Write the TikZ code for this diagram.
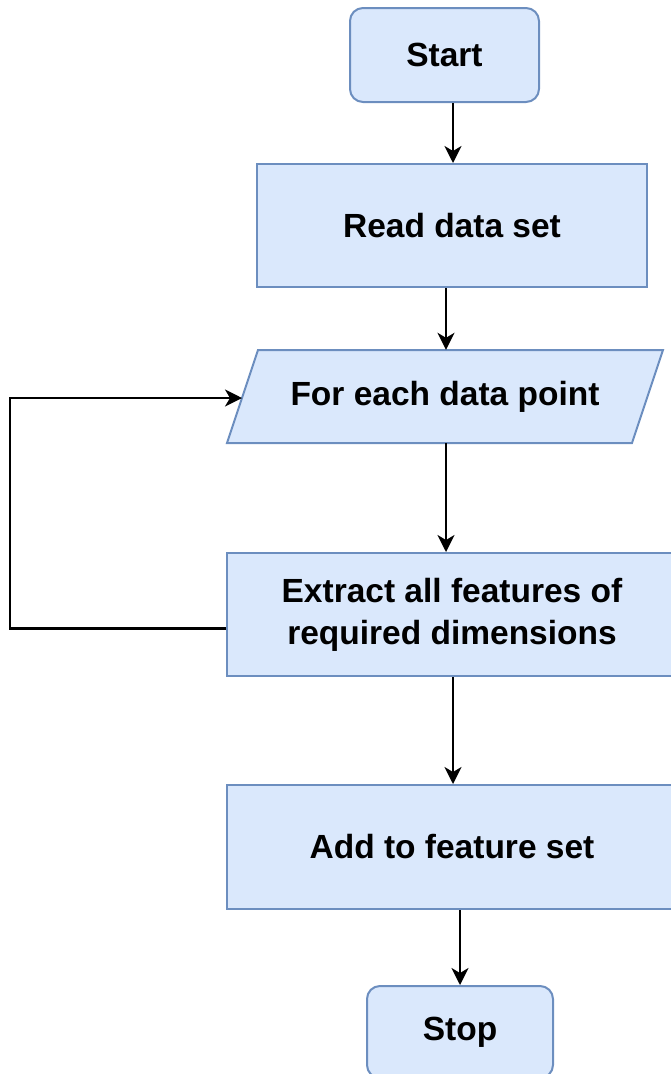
\documentclass[tikz,border=0pt]{standalone}
\usepackage{fontspec}
\setmainfont{Liberation Sans}
\usetikzlibrary{arrows.meta,calc}
\definecolor{boxfill}{HTML}{DAE8FC}
\definecolor{boxline}{HTML}{6C8EBF}
\tikzset{
  boxstyle/.style={draw=boxline, fill=boxfill, line width=2pt, inner sep=0pt,
    align=center, font=\fontsize{33.5pt}{42pt}\selectfont\bfseries},
  roundbox/.style={boxstyle, rounded corners=13pt},
  textonly/.style={inner sep=0pt, align=center, font=\fontsize{33.5pt}{42pt}\selectfont\bfseries},
  flow/.style={line width=2.3pt, -{Stealth[length=17pt, width=17pt, inset=5pt]}}
}
\begin{document}
\begin{tikzpicture}[x=1pt, y=-1pt]
\useasboundingbox (0,0) rectangle (670,1074);
\node[roundbox, minimum width=189pt, minimum height=94pt] (start) at (444.5,55) {Start};
\node[boxstyle, minimum width=390pt, minimum height=123pt] (read) at (452,225.5) {Read data set};
% parallelogram
\draw[draw=boxline, fill=boxfill, line width=2pt, line join=miter]
  (258,350) -- (663,350) -- (632,443) -- (227,443) -- cycle;
\node[textonly, minimum width=405pt, minimum height=93pt] (para) at (445,396.5) {For each data point};
\coordinate (parain) at (242,398);
\node[boxstyle, minimum width=450pt, minimum height=123pt] (extract) at (452,614.5) {Extract all features of\\required dimensions};
\node[boxstyle, minimum width=450pt, minimum height=124pt] (add) at (452,847) {Add to feature set};
\node[roundbox, minimum width=186pt, minimum height=92pt] (stop) at (460,1032) {Stop};
% arrow x positions
\coordinate (xa) at (453,0);
\coordinate (xb) at (446,0);
\coordinate (xc) at (446,0);
\coordinate (xd) at (453,0);
\coordinate (xe) at (460,0);
\coordinate (loopx) at (10,0);
\draw[flow] (start.south -| xa) -- (read.north -| xa);
\draw[flow] (read.south -| xb) -- (para.north -| xb);
\draw[flow] (para.south -| xc) -- (extract.north -| xc);
\draw[flow] (extract.south -| xd) -- (add.north -| xd);
\draw[flow] (add.south -| xe) -- (stop.north -| xe);
\draw[flow] ($(extract.west)+(0,14)$) -| (loopx |- parain) -- (parain);
\end{tikzpicture}
\end{document}
